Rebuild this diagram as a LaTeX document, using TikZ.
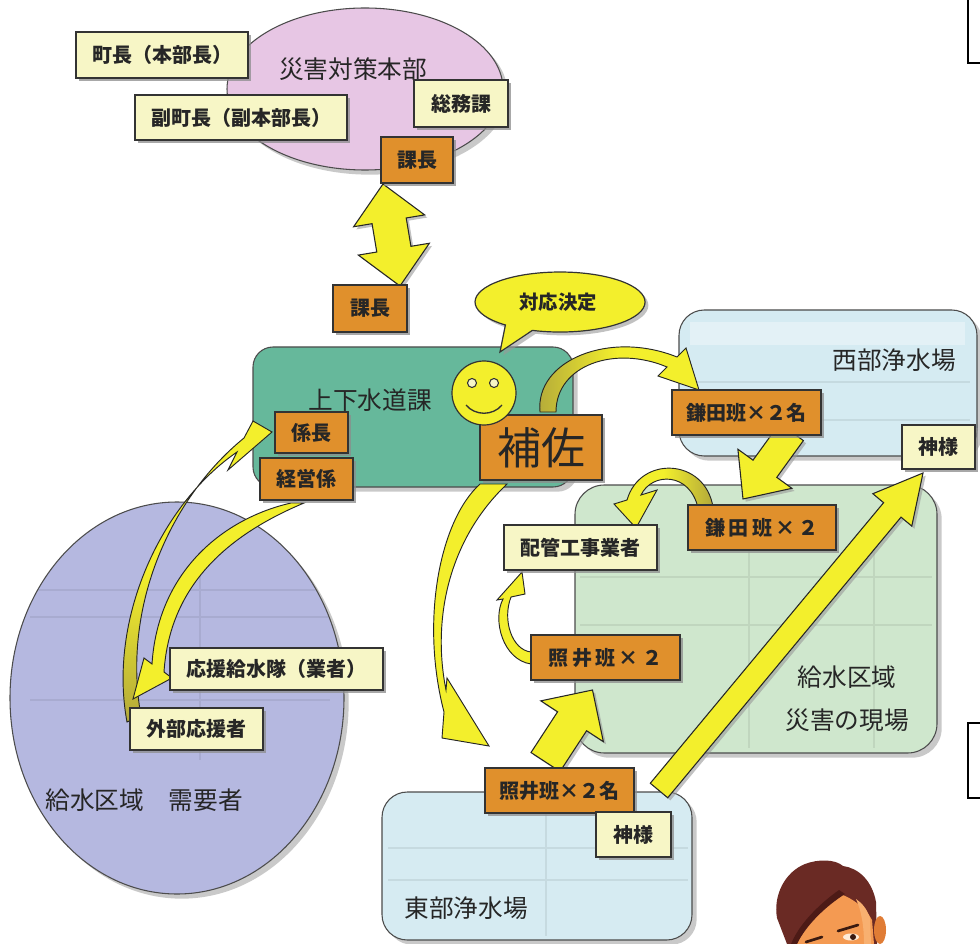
\documentclass[tikz,border=0pt]{standalone}
\usepackage{fontspec}
\newfontfamily\jp{Noto Sans CJK JP}
\usetikzlibrary{calc,fit,shadows,shapes.geometric}

\definecolor{boxyellow}{HTML}{F7F6C6}
\definecolor{boxorange}{HTML}{E0902C}
\definecolor{pinkreg}{HTML}{E7C6E4}
\definecolor{tealreg}{HTML}{66B89B}
\definecolor{westreg}{HTML}{D5EBF2}
\definecolor{greenreg}{HTML}{CFE7CD}
\definecolor{eastreg}{HTML}{D6EBF2}
\definecolor{lavreg}{HTML}{B5B8E0}
\definecolor{arrowyellow}{HTML}{F3EF2C}
\definecolor{arrowolive}{HTML}{B3A93A}
\definecolor{hair}{HTML}{6A2A24}
\definecolor{hairdark}{HTML}{4C1A16}
\definecolor{skin}{HTML}{F49A52}
\definecolor{skinlight}{HTML}{F8B070}
\definecolor{skindark}{HTML}{E07C35}
\definecolor{eyec}{HTML}{3A1A10}

\pgfdeclarelayer{regionlayer}
\pgfdeclarelayer{arrowlayer}
\pgfsetlayers{regionlayer,arrowlayer,main}

% straight block arrow: style, tail, tip, shaft half width, head half width, head length
\newcommand{\fatarrow}[6]{%
  \path ($(#3)!#6!(#2)$) coordinate (fab);
  \draw[#1] ($(#2)!#4!90:(#3)$) -- ($(fab)!#4!90:(#3)$) -- ($(fab)!#5!90:(#3)$) -- (#3)
    -- ($(fab)!#5!-90:(#3)$) -- ($(fab)!#4!-90:(#3)$) -- ($(#2)!#4!-90:(#3)$) -- cycle;}

% double-headed block arrow: style, end 1, end 2, shaft half width, head half width, head length
\newcommand{\dblarrow}[6]{%
  \path ($(#2)!#6!(#3)$) coordinate (daa) ($(#3)!#6!(#2)$) coordinate (dab);
  \draw[#1] (#2) -- ($(daa)!#5!90:(#3)$) -- ($(daa)!#4!90:(#3)$) -- ($(dab)!#4!-90:(#2)$)
    -- ($(dab)!#5!-90:(#2)$) -- (#3) -- ($(dab)!#5!90:(#2)$) -- ($(dab)!#4!90:(#2)$)
    -- ($(daa)!#4!-90:(#3)$) -- ($(daa)!#5!-90:(#3)$) -- cycle;}

% labelled box from its two corners: style, name, x1, y1, x2, y2, text
\newcommand{\labbox}[7]{%
  \node[#1, fit={(#3,#4)(#5,#6)}] (#2) {};
  \node[lbl] (#2-t) at (#2.center) {#7};}

\begin{document}
\begin{tikzpicture}[x=0.75pt, y=-0.75pt,
  every node/.style={inner sep=0pt, outer sep=0pt},
  lbl/.style={font=\jp\bfseries\fontsize{15}{18}\selectfont, text=black!85},
  boxbase/.style={draw=black!80, line width=0.9pt,
    drop shadow={shadow xshift=2.5pt, shadow yshift=-2.5pt, fill=black!45, opacity=0.75}},
  ybox/.style={boxbase, fill=boxyellow},
  obox/.style={boxbase, fill=boxorange},
  region/.style={draw=black!70, line width=0.8pt,
    drop shadow={shadow xshift=3.5pt, shadow yshift=-3.5pt, fill=black!35, opacity=0.6}},
  title/.style={font=\jp\fontsize{18.5}{22}\selectfont, text=black!85},
  faintline/.style={draw=black, opacity=0.07, line width=2pt},
  fatarrowstyle/.style={fill=arrowyellow, draw=black!85, line width=0.8pt,
    drop shadow={shadow xshift=2pt, shadow yshift=-2pt, fill=black!40, opacity=0.6}},
  carrow/.style={fill=arrowyellow, draw=black!85, line width=0.7pt}
]
\useasboundingbox (0,0) rectangle (980,944);

% ---------- regions ----------
\begin{pgfonlayer}{regionlayer}
\fill[white] (0,0) rectangle (980,944);
\node[region, ellipse, fill=pinkreg, minimum width=207pt, minimum height=121.5pt] (hq) at (365,89) {};
\node[region, rounded corners=15pt, fill=tealreg, fit={(253,347)(573,487)}] (suido) {};
\node[region, rounded corners=19pt, fill=westreg, fit={(679,310)(977,456)}] (west) {};
\node[region, rounded corners=22pt, fill=greenreg, fit={(575,485)(937,753)}] (site) {};
\node[region, rounded corners=19pt, fill=eastreg, fit={(382,792)(692,940)}] (east) {};
\node[region, ellipse, fill=lavreg, minimum width=250.5pt, minimum height=294pt] (users) at (177,698) {};

% faint tables printed inside the areas
\draw[faintline] (749,545) -- (749,748) (874,545) -- (874,748)
  (580,577) -- (932,577) (580,625) -- (932,625);
\draw[faintline] (546,800) -- (546,936) (388,848) -- (688,848) (388,880) -- (688,880);
\draw[faintline] (690,382) -- (970,382) (690,420) -- (970,420);
\fill[white, opacity=0.35] (690,322) rectangle (965,345);
\begin{scope}
  \clip (177,698) ellipse[x radius=166, y radius=195];
  \draw[faintline] (30,590) -- (330,590) (30,617) -- (330,617) (30,700) -- (330,700)
    (200,560) -- (200,760);
\end{scope}
\end{pgfonlayer}

% ---------- area titles ----------
\node[title] (hq-t) at (353,69) {災害対策本部};
\node[title] (suido-t) at (370,400) {上下水道課};
\node[title] (west-t) at (894,360) {西部浄水場};
\node[title] (east-t) at (466,908) {東部浄水場};
\node[title, align=center, font=\jp\fontsize{18.5}{32}\selectfont] (site-t) at (847,699) {給水区域\\災害の現場};
\node[title] (users-t) at (144,800) {給水区域　需要者};

% ---------- boxes ----------
\labbox{ybox}{chou}{76}{32}{248}{78}{町長（本部長）}
\labbox{ybox}{fukuchou}{135}{95}{347}{140}{副町長（副本部長）}
\labbox{ybox}{soumu}{414}{80}{508}{127}{総務課}
\labbox{obox}{kachoA}{381}{137}{453}{183}{課長}
\labbox{obox}{kachoB}{333}{285}{407}{332}{課長}
\labbox{obox}{kakari}{275}{412}{348}{453}{係長}
\labbox{obox}{keiei}{260}{458}{353}{500}{経営係}
\node[obox, fit={(480,415)(602,480)}] (hosa) {};
\node[font=\jp\fontsize{33}{36}\selectfont, text=black!85] (hosa-t) at (hosa.center) {補佐};
\labbox{obox}{kamata1}{672}{390}{821}{435}{鎌田班×２名}
\labbox{ybox}{kami1}{902}{425}{975}{469}{神様}
\labbox{obox}{kamata2}{688}{505}{836}{550}{鎌\,田\,班\,×\,２}
\labbox{ybox}{haikan}{504}{525}{657}{570}{配管工事業者}
\labbox{obox}{terai2}{531}{635}{680}{680}{照\,井\,班\,×\,２}
\labbox{obox}{terai1}{485}{768}{634}{813}{照井班×２名}
\labbox{ybox}{kami2}{596}{812}{671}{857}{神様}
\labbox{ybox}{ouen}{170}{648}{383}{690}{応援給水隊（業者）}
\labbox{ybox}{gaibu}{130}{708}{263}{750}{外部応援者}

% ---------- smiley and speech bubble ----------
\node[circle, draw=black!80, line width=0.9pt, fill=arrowyellow, minimum size=48pt] (smiley) at (484,393) {};
\draw[black!80, line width=0.8pt, fill=boxyellow] (472,383) circle[radius=4.5] (494,383) circle[radius=4.5];
\draw[black!80, line width=1pt] (466,405) .. controls (475,416) and (493,416) .. (502,405);
\draw[draw=black!80, line width=0.9pt, fill=arrowyellow,
  drop shadow={shadow xshift=2.5pt, shadow yshift=-2.5pt, fill=black!40, opacity=0.6}]
  (500,352) -- (505.4,325) arc[start angle=130, end angle=469, x radius=85, y radius=30] -- cycle;
\node[lbl, font=\jp\bfseries\fontsize{14.5}{17}\selectfont] (decide) at (558,302) {対応決定};

% ---------- block arrows ----------
\begin{pgfonlayer}{arrowlayer}
\coordinate (dtop) at ($(kachoA.south west)+(2,1)$);
\coordinate (dbot) at ($(kachoB.north east)+(-7,1)$);
\dblarrow{fatarrowstyle}{dtop}{dbot}{13pt}{27pt}{28pt}

\coordinate (kt) at ($(kamata1.south)+(45,-3)$);
\coordinate (kh) at ($(kamata2.north)+(-19,-6)$);
\fatarrow{fatarrowstyle}{kt}{kh}{11pt}{25pt}{28pt}

\coordinate (tt) at ($(terai1.north)+(-14,-6)$);
\coordinate (th) at ($(terai2.south)+(-13,10)$);
\fatarrow{fatarrowstyle}{tt}{th}{13pt}{28pt}{28pt}

\coordinate (gt) at ($(terai1.east)+(25,0)$);
\coordinate (gh) at ($(kami1.south west)+(21,4)$);
\fatarrow{fatarrowstyle}{gt}{gh}{8.5pt}{19pt}{36pt}

% curved arrows
% outside helpers -> chief
\draw[carrow, top color=arrowyellow, bottom color=arrowolive, middle color=arrowyellow]
  (127,722) .. controls (108,620) and (160,505) .. (237,452) -- (228,470) -- (272,432)
  -- (253,421) -- (244,438) .. controls (168,500) and (122,610) .. (141,716) -- cycle;
% management section -> outside helpers
\draw[carrow]
  (291,503) .. controls (225,518) and (158,570) .. (152,664) -- (144,658) -- (133,699)
  -- (172,678) -- (164,672) .. controls (170,580) and (235,532) .. (304,503) -- cycle;
% assistant -> west team
\draw[carrow, left color=arrowolive, right color=arrowyellow, middle color=arrowyellow]
  (540,412) .. controls (535,360) and (610,330) .. (677,357) -- (686,348) -- (699,390)
  -- (658,376) -- (667,367) .. controls (615,345) and (556,365) .. (556,412) -- cycle;
% assistant -> east team
\draw[carrow]
  (480,484) .. controls (440,520) and (420,620) .. (444,712) -- (442,738) -- (489,746)
  -- (447,678) -- (446,690) .. controls (432,620) and (448,540) .. (507,484) -- cycle;
% east team -> pipe contractor
\draw[carrow]
  (531,664) .. controls (503,660) and (492,620) .. (503,599) -- (497,600) -- (522,572)
  -- (525,594) -- (511,597) .. controls (502,620) and (512,650) .. (531,652) -- cycle;
% west team -> pipe contractor
\draw[carrow, left color=arrowyellow, right color=arrowolive, middle color=arrowyellow]
  (713,507) .. controls (705,458) and (640,455) .. (627,500) -- (614,504) -- (636,528)
  -- (657,490) -- (641,495) .. controls (652,472) and (690,472) .. (698,508) -- cycle;
\end{pgfonlayer}

% ---------- boxes cut by the right edge ----------
\node[draw=black, line width=1.5pt, fill=white, fit={(968,-10)(995,63)}] (edgeA) {};
\node[draw=black, line width=1.5pt, fill=white, fit={(968,723)(995,798)}] (edgeB) {};

% ---------- figure peeking in at the bottom ----------
\fill[hair] (787,944) -- (777,918) .. controls (773,895) and (785,872) .. (805,864)
  .. controls (818,859) and (835,859) .. (843,866) .. controls (858,868) and (872,880) .. (876,902)
  -- (877,944) -- cycle;
\fill[skin] (797,944) .. controls (805,925) and (825,905) .. (840,894)
  .. controls (852,898) and (866,908) .. (872,920) -- (874,944) -- cycle;
\fill[hairdark] (791,944) .. controls (800,922) and (822,902) .. (839,890)
  -- (845,894) .. controls (826,906) and (806,925) .. (797,944) -- cycle;
\fill[skinlight] (856,899) .. controls (862,903) and (867,909) .. (870,918) -- (871,944) -- (864,944)
  .. controls (864,925) and (861,910) .. (856,899) -- cycle;
\fill[skindark] (880,930) ellipse[x radius=6, y radius=14];
\fill[white!85!orange] (851,937) ellipse[x radius=8, y radius=3.5];
\fill[eyec] (853,937) circle[radius=3];
\draw[eyec, line width=2pt, line cap=round] (838,931) -- (858,925);
\draw[eyec, line width=2pt, line cap=round] (806,942) -- (822,937);
\end{tikzpicture}
\end{document}
